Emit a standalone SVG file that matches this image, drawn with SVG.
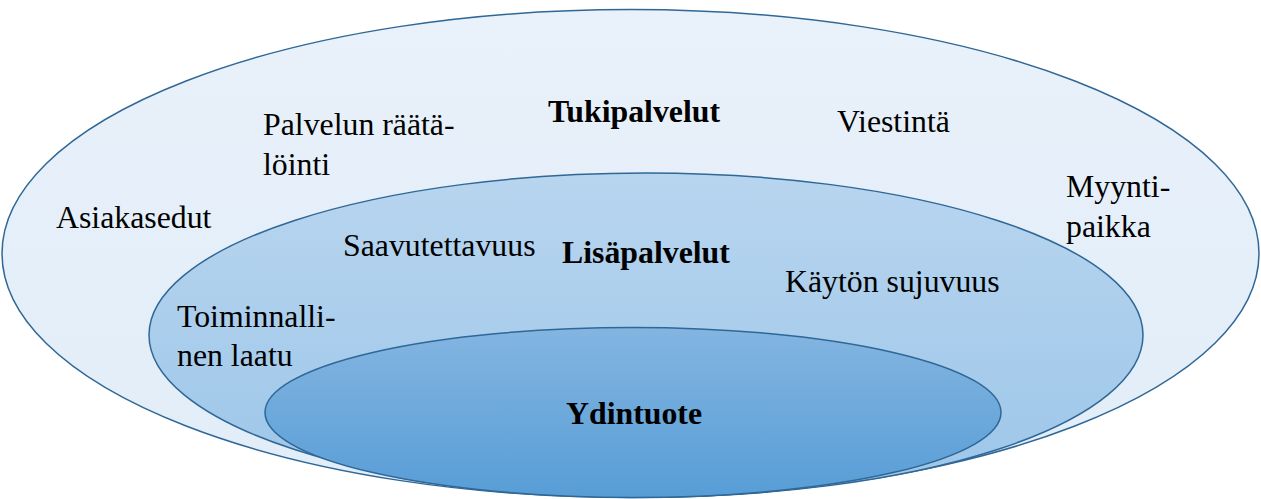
<svg xmlns="http://www.w3.org/2000/svg" width="1261" height="499" viewBox="0 0 1261 499">
<defs>
<linearGradient id="gOuter" x1="0" y1="0" x2="0" y2="1">
<stop offset="0" stop-color="#e9f1fa"/>
<stop offset="1" stop-color="#e1edf8"/>
</linearGradient>
<linearGradient id="gMid" x1="0" y1="0" x2="0" y2="1">
<stop offset="0" stop-color="#b8d5ef"/>
<stop offset="1" stop-color="#9cc6e9"/>
</linearGradient>
<linearGradient id="gInner" x1="0" y1="0" x2="0" y2="1">
<stop offset="0" stop-color="#84b5e1"/>
<stop offset="1" stop-color="#579dd6"/>
</linearGradient>
<style>
.ring{stroke:#2f6796;stroke-width:1.5}
text{font-family:'Liberation Serif','DejaVu Serif',serif;font-size:31.8px;fill:#000}
.b{font-weight:bold}
</style>
</defs>
<g id="tukipalvelut" font-family="Liberation Serif, serif">
<ellipse class="ring" cx="630.5" cy="253.5" rx="628.5" ry="244" fill="url(#gOuter)"/>
<text class="b" x="548" y="121.5">Tukipalvelut</text>
<text x="263" y="135">Palvelun räätä-</text>
<text x="263" y="175">löinti</text>
<text x="837" y="131.5">Viestintä</text>
<text x="56" y="227.5">Asiakasedut</text>
<text x="1066" y="197">Myynti-</text>
<text x="1066" y="237">paikka</text>
</g>
<g id="lisapalvelut" font-family="Liberation Serif, serif">
<ellipse class="ring" cx="646" cy="335" rx="497" ry="162" fill="url(#gMid)"/>
<text class="b" x="562" y="262.5">Lisäpalvelut</text>
<text x="343" y="255.5">Saavutettavuus</text>
<text x="785" y="291.5">Käytön sujuvuus</text>
<text x="177" y="326.5">Toiminnalli-</text>
<text x="177" y="366">nen laatu</text>
</g>
<g id="ydintuote" font-family="Liberation Serif, serif">
<ellipse class="ring" cx="633" cy="412.5" rx="368" ry="85" fill="url(#gInner)"/>
<text class="b" x="566" y="424">Ydintuote</text>
</g>
<g id="connectors"></g>
</svg>
